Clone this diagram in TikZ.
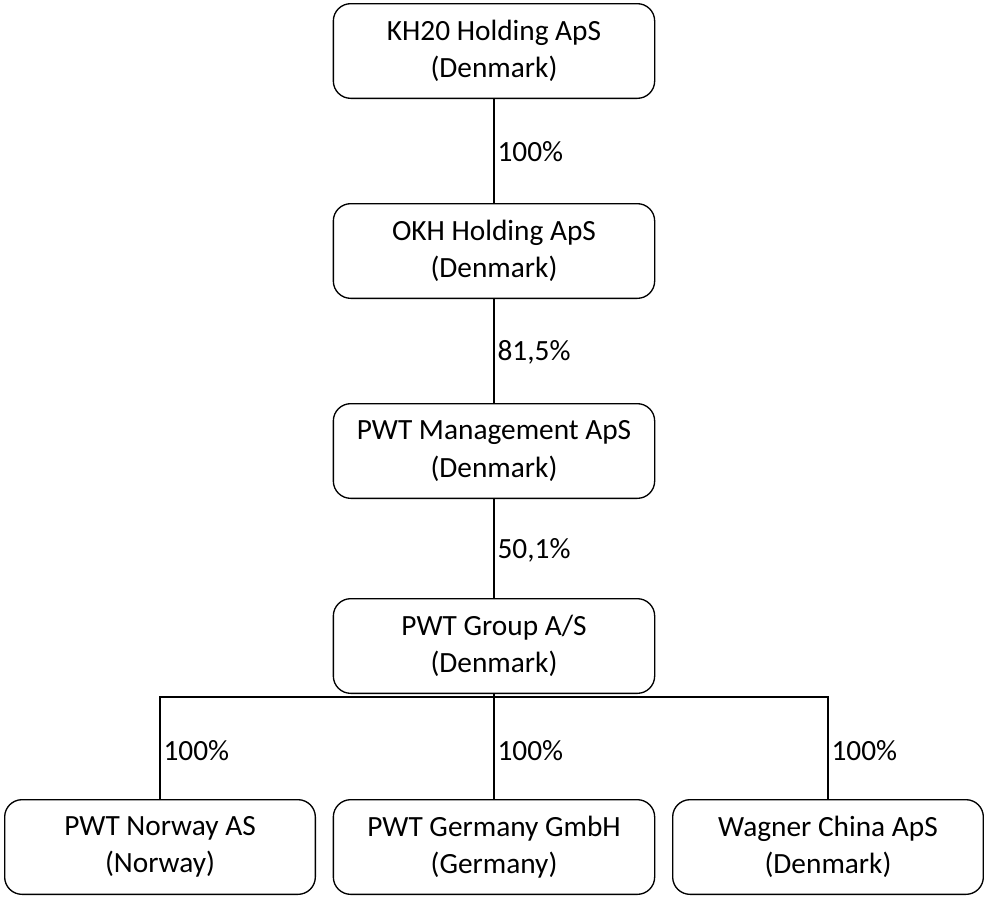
\documentclass[tikz,border=0pt]{standalone}
\usepackage{fontspec}
\setmainfont{Carlito}
\usepackage{tikz}

\tikzset{
  firm/.style={draw, line width=1pt, rounded corners=13pt, minimum width=241pt, minimum height=71pt,
    align=center, font=\fontsize{22}{28}\selectfont, inner sep=0pt},
  share/.style={anchor=west, inner sep=1pt, font=\fontsize{22}{26}\selectfont},
  owns/.style={line width=1pt}
}

\begin{document}
\begin{tikzpicture}[x=0.75pt,y=0.75pt,yscale=-1,xscale=1]
\useasboundingbox (0,0) rectangle (984,896);

%Shape: Rounded boxes
\node[firm] (kh) at (494,51) {KH20 Holding ApS\\(Denmark)};
\node[firm] (okh) at (494,251) {OKH Holding ApS\\(Denmark)};
\node[firm] (mgmt) at (494,451) {PWT Management ApS\\(Denmark)};
\node[firm] (grp) at (494,646) {PWT Group A/S\\(Denmark)};
\node[firm, minimum width=233pt] (nor) at (160,847) {PWT Norway AS\\(Norway)};
\node[firm] (ger) at (494,847) {PWT Germany GmbH\\(Germany)};
\node[firm, minimum width=233pt] (wag) at (828,847) {Wagner China ApS\\(Denmark)};

%Straight Lines
\draw[owns] (kh) -- (okh);
\draw[owns] (okh) -- (mgmt);
\draw[owns] (mgmt) -- (grp);
\coordinate (fork) at (494,697);
\draw[owns] (grp) -- (fork) -| (nor);
\draw[owns] (fork) -- (ger);
\draw[owns] (fork) -| (wag);

% Text Node
\node[share] (p1) at (496,152) {100\%};
% Text Node
\node[share] (p2) at (496,352) {81,5\%};
% Text Node
\node[share] (p3) at (496,550) {50,1\%};
% Text Node
\node[share] (p4) at (162,751) {100\%};
% Text Node
\node[share] (p5) at (496,751) {100\%};
% Text Node
\node[share] (p6) at (830,751) {100\%};

\end{tikzpicture}
\end{document}
